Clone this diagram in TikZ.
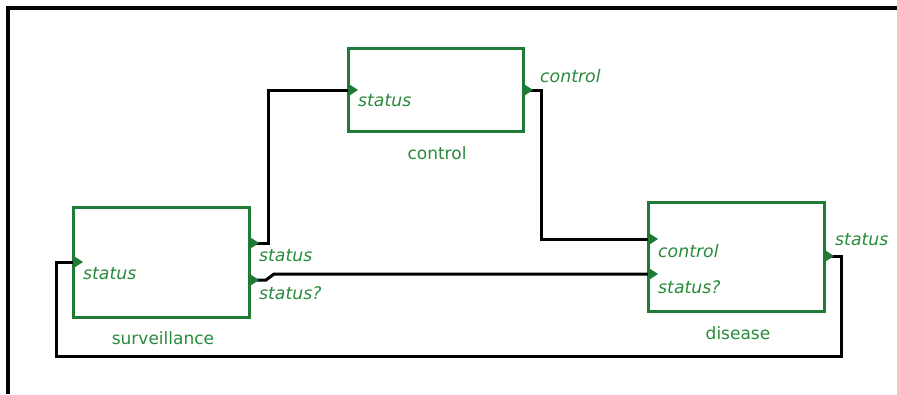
\documentclass[tikz,border=0pt]{standalone}
\usepackage{fontspec}
\setmainfont{DejaVu Sans}
\definecolor{bgreen}{RGB}{30,122,52}
\definecolor{tgreen}{RGB}{40,138,58}
\tikzset{
  blk/.style={draw=bgreen, line width=3pt, inner sep=0pt, fill=white},
  wire/.style={draw=black, line width=3pt},
  frame/.style={draw=black, line width=3.5pt},
  pname/.style={text=tgreen, font=\fontsize{17.3}{20}\selectfont\itshape, inner sep=0pt, anchor=west},
  bname/.style={text=tgreen, font=\fontsize{17}{20}\selectfont, inner sep=0pt},
  porttri/.pic={\fill[bgreen] (0,-6.5) -- (10,0) -- (0,6.5) -- cycle;}
}
\begin{document}
\begin{tikzpicture}[x=1pt,y=-1pt]
\useasboundingbox (0,0) rectangle (897,394);
\draw[frame] (8,394) -- (8,8) -- (897,8);

% boxes
\node[blk, minimum width=175pt, minimum height=83pt] (ctl) at (435.5,89.5) {};
\node[blk, minimum width=176pt, minimum height=110pt] (sur) at (161,262) {};
\node[blk, minimum width=176pt, minimum height=109pt] (dis) at (736,256.5) {};

% box names
\node[bname] (ctlname) at (437,153) {control};
\node[bname] (surname) at (163,338) {surveillance};
\node[bname] (disname) at (738,333) {disease};

% ports
\coordinate (ctlin) at (348,90);
\coordinate (ctlout) at (523,90);
\coordinate (surin) at (73,262);
\coordinate (surout1) at (249,243);
\coordinate (surout2) at (249,280);
\coordinate (disin1) at (648,239);
\coordinate (disin2) at (648,274);
\coordinate (disout) at (824,256);

% wires
\draw[wire] (surout1) -- ++(19,0) |- (ctlin);
\draw[wire] (ctlout) -- ++(18,0) |- (disin1);
\draw[wire] (surout2) -- ++(17,0) -- ++(8,-6) -- (disin2);
\draw[wire] (disout) -- ++(17,0) |- (56,356) |- (surin);

% port triangles
\foreach \p in {ctlin,ctlout,surin,surout1,surout2,disin1,disin2,disout}
  \pic at (\p) {porttri};

% port labels
\node[pname] (l1) at (358,101) {status};
\node[pname] (l2) at (540,76) {control};
\node[pname] (l3) at (83,274) {status};
\node[pname] (l4) at (259,256) {status};
\node[pname] (l5) at (259,293) {status?};
\node[pname] (l6) at (658,251) {control};
\node[pname] (l7) at (658,287) {status?};
\node[pname] (l8) at (835,240) {status};
\end{tikzpicture}
\end{document}
